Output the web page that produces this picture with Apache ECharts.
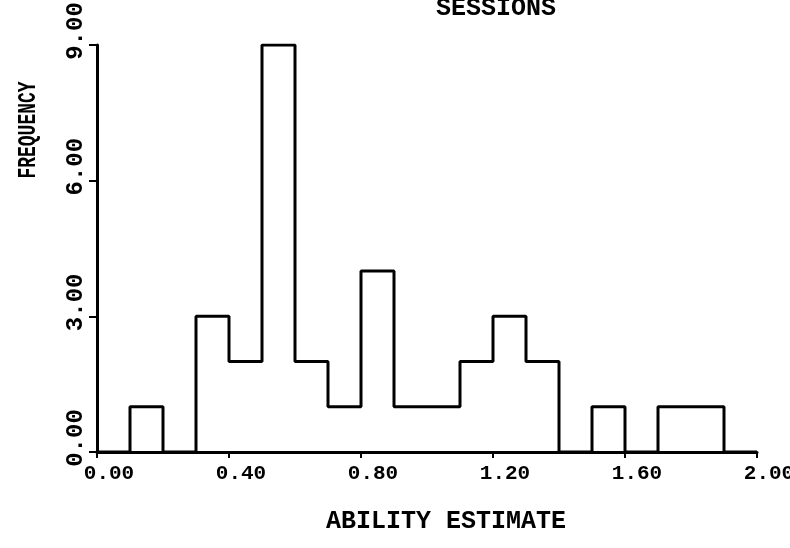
<!DOCTYPE html>
<html>
<head>
<meta charset="utf-8">
<script src="https://cdn.jsdelivr.net/npm/echarts@6/dist/echarts.min.js"></script>
<style>
html,body{margin:0;padding:0;background:#fff;}
#chart{width:790px;height:548px;}
</style>
</head>
<body>
<div id="chart"></div>
<script>
// Histogram bins (left edges) and observed frequencies
var binStarts = [0.0, 0.1, 0.2, 0.3, 0.4, 0.5, 0.6, 0.7, 0.8, 0.9,
                 1.0, 1.1, 1.2, 1.3, 1.4, 1.5, 1.6, 1.7, 1.8, 1.9];
var frequencies = [0, 1, 0, 3, 2, 9, 2, 1, 4, 1,
                   1, 2, 3, 2, 0, 1, 0, 1, 1, 0];
var binWidth = 0.1;
var xTickValues = [0.00, 0.40, 0.80, 1.20, 1.60, 2.00];
var yTickValues = [0.00, 3.00, 6.00, 9.00];
var titleText = "SESSIONS";
var xAxisTitle = "ABILITY ESTIMATE";
var yAxisTitle = "FREQUENCY";

var stepData = binStarts.map(function (x, i) { return [x, frequencies[i]]; });
stepData.push([binStarts[binStarts.length - 1] + binWidth, 0]);

var FONT = "Liberation Mono";
var chart = echarts.init(document.getElementById('chart'));
chart.setOption({
  backgroundColor: '#fff',
  animation: false,
  grid: { left: 97, right: 33, top: 45, bottom: 96, containLabel: false, outerBoundsMode: 'none' },
  xAxis: {
    type: 'value',
    min: xTickValues[0],
    max: xTickValues[xTickValues.length - 1],
    interval: 0.4,
    axisLine: { show: true, lineStyle: { color: '#000', width: 3 } },
    axisTick: { show: true, length: 6, lineStyle: { color: '#000', width: 2 } },
    splitLine: { show: false },
    axisLabel: {
      color: '#000', fontFamily: FONT, fontSize: 21, fontWeight: 'bold', margin: 11,
      padding: [0, 0, 0, 24],
      hideOverlap: false,
      formatter: function (v) { return v.toFixed(2); }
    }
  },
  yAxis: {
    type: 'value',
    min: yTickValues[0],
    max: yTickValues[yTickValues.length - 1],
    interval: 3,
    axisLine: { show: true, lineStyle: { color: '#000', width: 3 } },
    axisTick: { show: true, length: 8, lineStyle: { color: '#000', width: 2 } },
    splitLine: { show: false },
    axisLabel: {
      color: '#000', fontFamily: FONT, fontSize: 24, fontWeight: 'bold', margin: 9,
      rotate: 90,
      padding: [0, 0, 0, 28],
      formatter: function (v) { return v.toFixed(2); }
    }
  },
  series: [{
    type: 'line',
    step: 'end',
    data: stepData,
    symbol: 'none',
    lineStyle: { color: '#000', width: 3 },
    z: 3
  }],
  graphic: [
    { type: 'text', x: 496, y: 9, style: { text: titleText, font: 'bold 25px "' + FONT + '"', fill: '#000', textAlign: 'center', textVerticalAlign: 'middle' } },
    { type: 'text', x: 446, y: 522, style: { text: xAxisTitle, font: 'bold 25px "' + FONT + '"', fill: '#000', textAlign: 'center', textVerticalAlign: 'middle' } },
    { type: 'text', x: 29, y: 130, rotation: Math.PI / 2, scaleX: 0.72, style: { text: yAxisTitle, font: 'bold 25px "' + FONT + '"', fill: '#000', textAlign: 'center', textVerticalAlign: 'middle' } }
  ]
});
</script>
</body>
</html>
